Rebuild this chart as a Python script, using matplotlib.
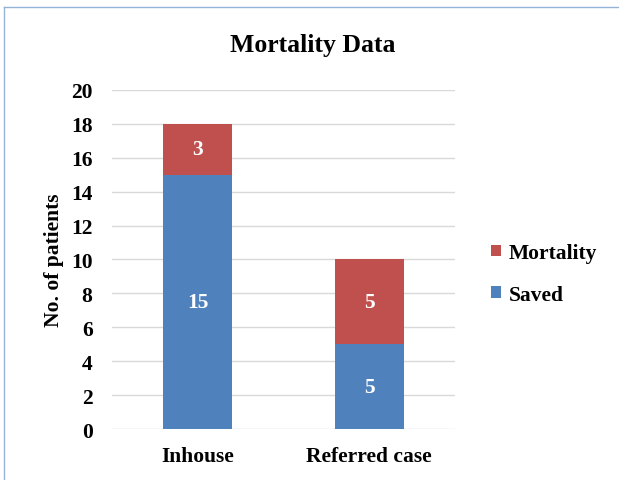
import matplotlib.pyplot as plt
from matplotlib.lines import Line2D

categories = ["Inhouse", "Referred case"]
saved = [15, 5]
mortality = [3, 5]

plt.rcParams['font.family'] = ['Liberation Serif', 'DejaVu Serif']
plt.rcParams['font.weight'] = 'bold'

fig = plt.figure(figsize=(6.19, 4.81), dpi=100)
ax = fig.add_axes([0.181, 0.106, 0.554, 0.705])

x = range(len(categories))
b1 = ax.bar(x, saved, width=0.4, color='#4F81BD', label='Saved', zorder=3)
b2 = ax.bar(x, mortality, width=0.4, bottom=saved, color='#C0504D', label='Mortality', zorder=3)

for i in x:
    ax.text(i, saved[i] / 2, str(saved[i]), ha='center', va='center', color='white',
            fontsize=15.5, fontweight='bold', zorder=4)
    ax.text(i, saved[i] + mortality[i] / 2, str(mortality[i]), ha='center', va='center',
            color='white', fontsize=15.5, fontweight='bold', zorder=4)

ax.set_xlim(-0.5, 1.5)
ax.set_ylim(0, 20)
ax.set_yticks(range(0, 21, 2))
ax.set_xticks(list(x))
ax.set_xticklabels(categories, fontsize=15.5, fontweight='bold')
ax.tick_params(axis='y', labelsize=15.5, length=0, pad=14)
ax.tick_params(axis='x', length=0, pad=12)
ax.grid(axis='y', color='#D9D9D9', linewidth=1, zorder=0)
for s in ax.spines.values():
    s.set_visible(False)
ax.set_ylabel("No. of patients", fontsize=15.5, fontweight='bold')
ax.yaxis.set_label_coords(-0.14, 0.5)
fig.text(0.505, 0.906, "Mortality Data", ha='center', va='center', fontsize=18.5, fontweight='bold')

ax.legend([b2, b1], ['Mortality', 'Saved'], loc='center left', bbox_to_anchor=(1.05, 0.457),
          frameon=False, handlelength=0.45, handleheight=0.45,
          handletextpad=0.35, labelspacing=1.0, prop={'weight': 'bold', 'size': 15.5})

# chart frame (clipped at right and bottom like the reference)
fig.add_artist(Line2D([4 / 619, 4 / 619], [0, 1 - 8 / 481], transform=fig.transFigure,
                      color='#95B3D7', linewidth=1))
fig.add_artist(Line2D([4 / 619, 1], [1 - 8 / 481, 1 - 8 / 481], transform=fig.transFigure,
                      color='#95B3D7', linewidth=1))

fig.savefig("out.png", dpi=100)
